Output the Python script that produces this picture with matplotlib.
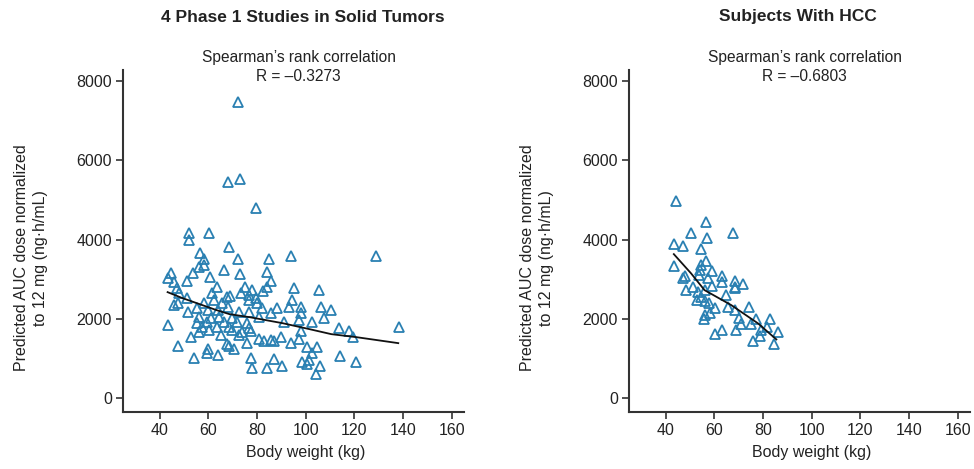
import numpy as np
import matplotlib.pyplot as plt

plt.rcParams['font.family'] = ['Liberation Sans', 'DejaVu Sans']

# Данные: 4 исследования фазы 1 (солидные опухоли)
solid_weight = [51.9, 51.9, 60.1, 72.4, 68.3, 73.2, 79.8, 56.8, 68.7, 58.4,
                72.4, 85.1, 94.1, 128.9, 56.4, 58.4, 53.9, 66.6, 73.2, 84.3,
                44.9, 43.3, 46.1, 51.1, 60.9, 85.9, 47.0, 63.4, 75.2, 78.1,
                84.3, 82.6, 95.3, 105.6, 47.8, 61.7, 67.5, 69.1, 73.6, 76.9,
                79.8, 51.1, 46.1, 47.4, 58.4, 62.5, 65.8, 76.9, 80.2, 94.5,
                88.4, 93.3, 98.2, 106.4, 110.5, 82.2, 51.5, 55.2, 59.7, 63.8,
                67.9, 72.8, 85.9, 98.2, 76.9, 56.4, 61.3, 64.6, 69.9, 81.0,
                97.4, 107.6, 55.2, 59.3, 66.6, 72.0, 75.7, 91.2, 102.7, 43.3,
                57.6, 63.4, 68.7, 76.9, 69.9, 56.4, 60.5, 74.0, 77.7, 98.2,
                113.8, 117.9, 138.4, 53.1, 65.4, 72.8, 119.5, 81.0, 83.0, 85.9,
                87.1, 90.0, 97.4, 47.4, 67.5, 68.7, 70.7, 75.7, 94.1, 100.7,
                104.8, 59.7, 59.3, 63.8, 54.3, 77.7, 102.7, 114.2, 87.1, 98.6,
                101.5, 100.7, 120.7, 78.1, 84.3, 90.4, 106.0, 104.3]
solid_auc = [4165, 3988, 4165, 7471, 5452, 5528, 4796, 3660, 3811, 3508,
             3508, 3508, 3584, 3584, 3306, 3357, 3155, 3231, 3130, 3180,
             3155, 3029, 2928, 2953, 3054, 2953, 2776, 2802, 2802, 2726,
             2802, 2701, 2776, 2726, 2650, 2650, 2549, 2574, 2650, 2600,
             2524, 2524, 2347, 2398, 2398, 2474, 2398, 2474, 2398, 2474,
             2272, 2297, 2297, 2297, 2221, 2272, 2171, 2272, 2221, 2221,
             2297, 2171, 2145, 2145, 2171, 2044, 2019, 2044, 2019, 2044,
             1969, 2019, 1893, 1918, 1918, 1918, 1893, 1918, 1918, 1843,
             1792, 1792, 1792, 1767, 1716, 1666, 1716, 1666, 1691, 1691,
             1767, 1691, 1792, 1540, 1590, 1590, 1540, 1489, 1439, 1464,
             1439, 1540, 1489, 1312, 1363, 1312, 1237, 1388, 1388, 1287,
             1287, 1237, 1136, 1085, 1010, 1010, 1136, 1060, 984, 909,
             959, 858, 909, 757, 757, 808, 808, 606]
solid_fit_x = [43.3, 49.4, 57.6, 63.4, 68.7, 76.9, 90.4, 101.5, 110.5, 120.7, 138.0]
solid_fit_y = [2675, 2524, 2347, 2221, 2120, 2044, 1893, 1742, 1615, 1540, 1388]

# Данные: пациенты с ГЦК
hcc_weight = [44.4, 56.5, 50.3, 57.1, 67.7, 43.4, 47.1, 54.6, 43.4, 56.7,
              54.6, 54.0, 59.1, 47.8, 47.1, 53.7, 57.4, 63.3, 63.3, 68.4,
              71.8, 68.4, 68.4, 48.5, 51.2, 53.3, 56.0, 59.1, 54.4, 53.0,
              56.0, 57.7, 64.9, 60.2, 65.6, 68.4, 74.3, 56.0, 58.1, 55.8,
              70.2, 77.0, 82.8, 71.1, 75.2, 81.8, 86.2, 63.3, 60.4, 69.1,
              79.1, 75.9, 78.7, 84.6]
hcc_auc = [4980, 4450, 4157, 4046, 4157, 3887, 3837, 3761, 3340, 3466,
           3357, 3231, 3205, 3079, 3021, 3104, 3037, 3087, 2936, 2953,
           2870, 2810, 2769, 2726, 2794, 2683, 2726, 2827, 2557, 2474,
           2456, 2405, 2600, 2264, 2304, 2221, 2304, 2095, 2138, 1986,
           2011, 1986, 1986, 1868, 1868, 1800, 1658, 1716, 1615, 1716,
           1716, 1446, 1573, 1355]
hcc_fit_x = [43.4, 50.5, 56.0, 67.0, 78.0, 85.5]
hcc_fit_y = [3634, 3147, 2726, 2347, 1885, 1482]

panel_titles = ["4 Phase 1 Studies in Solid Tumors", "Subjects With HCC"]
r_values = ["R = \u20130.3273", "R = \u20130.6803"]
x_ticks = [40, 60, 80, 100, 120, 140, 160]
y_ticks = [0, 2000, 4000, 6000, 8000]

MARKER_COLOR = "#2a80b2"
AXIS_COLOR = "#333333"
TEXT_COLOR = "#222222"

fig = plt.figure(figsize=(9.74, 4.69), dpi=100)
ax1 = fig.add_axes([0.1263, 0.1215, 0.3501, 0.7292])
ax2 = fig.add_axes([0.6458, 0.1215, 0.3501, 0.7292])

panels = [
    (ax1, solid_weight, solid_auc, solid_fit_x, solid_fit_y),
    (ax2, hcc_weight, hcc_auc, hcc_fit_x, hcc_fit_y),
]

for i, (ax, xs, ys, fx, fy) in enumerate(panels):
    ax.plot(xs, ys, linestyle="none", marker="^", markersize=7.3,
            markerfacecolor="none", markeredgecolor=MARKER_COLOR,
            markeredgewidth=1.3)
    ax.plot(fx, fy, color="#111111", linewidth=1.3)

    ax.set_xlim(25, 165)
    ax.set_ylim(-350, 8280)
    ax.set_xticks(x_ticks)
    ax.set_yticks(y_ticks)
    for s in ["top", "right"]:
        ax.spines[s].set_visible(False)
    for s in ["left", "bottom"]:
        ax.spines[s].set_color(AXIS_COLOR)
        ax.spines[s].set_linewidth(1.5)
    ax.tick_params(axis="both", direction="out", length=5, width=1.2,
                   color=AXIS_COLOR, labelcolor=TEXT_COLOR, labelsize=11.5, pad=3)

    ax.set_xlabel("Body weight (kg)", fontsize=11.5, color=TEXT_COLOR)
    ax.xaxis.set_label_coords((100 - 25) / 140, -0.095)
    ax.set_ylabel("Predicted AUC dose normalized\nto 12 mg (ng\u00b7h/mL)",
                  fontsize=11.5, color=TEXT_COLOR, linespacing=1.3)
    ax.yaxis.set_label_coords(-0.22, 0.45)

    # две строки аннотации над областью графика
    ax.text(0.515, 1.009, "Spearman\u2019s rank correlation\n" + r_values[i],
            transform=ax.transAxes, ha="center", va="center", fontsize=11.2,
            color=TEXT_COLOR, linespacing=1.3)

fig.text(303 / 974, 1 - 17 / 469, panel_titles[0], ha="center", va="center",
         fontsize=12.5, fontweight="bold", color=TEXT_COLOR)
fig.text(798 / 974, 1 - 17 / 469, panel_titles[1], ha="center", va="center",
         fontsize=12.5, fontweight="bold", color=TEXT_COLOR)

fig.savefig("out.png", dpi=100)
